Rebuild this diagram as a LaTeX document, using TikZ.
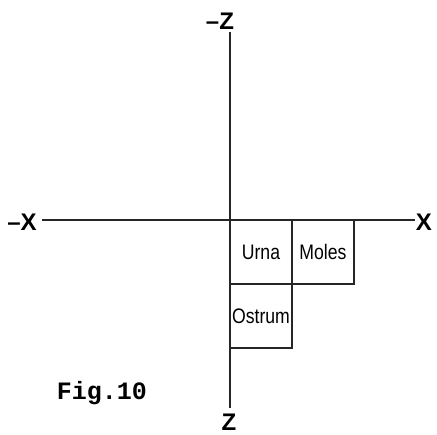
\documentclass[tikz,border=0pt]{standalone}
\usepackage{fontspec}
\usepackage{graphicx}
\setsansfont{Liberation Sans}
\setmonofont{Liberation Mono}
\usetikzlibrary{positioning}
\newcommand{\narrowtxt}[1]{\scalebox{0.84}[1]{#1}}

\begin{document}
\begin{tikzpicture}[x=1pt, y=-1pt,
  cell/.style={draw=black!85, line width=1.2pt, minimum width=62pt,
               minimum height=64pt, inner sep=0pt, outer sep=0pt,
               font=\sffamily\fontsize{21}{21}\selectfont},
  axislbl/.style={font=\sffamily\bfseries\fontsize{24}{24}\selectfont,
               inner sep=0pt},
  axis/.style={line width=1.2pt, black!85},
]
\useasboundingbox (0,0) rectangle (437,435);

% Axes end points.
\coordinate (xl) at (42,220);
\coordinate (xr) at (415,220);
\coordinate (zt) at (230,32);
\coordinate (zb) at (230,408);
\draw[axis] (xl) -- (xr);
\draw[axis] (zt) -- (zb);

% Axis labels.
\node[axislbl] (mz) at (220,21) {–Z};
\node[axislbl] (mx) at (22,222) {–X};
\node[axislbl] (px) at (424,222) {X};
\node[axislbl] (pz) at (229,422) {Z};

% Cells below the X axis.
\node[cell, anchor=north west] (urna) at (230,220) {\narrowtxt{Urna}\hspace{8pt}};
\node[cell, right=0pt of urna] (moles) {\narrowtxt{Moles}};
\node[cell, below=0pt of urna] (ostrum) {\narrowtxt{Ostrum}};

% Caption.
\node[font=\ttfamily\bfseries\fontsize{25}{25}\selectfont, inner sep=0pt]
  (fig) at (102,393) {Fig.10};

\end{tikzpicture}
\end{document}
